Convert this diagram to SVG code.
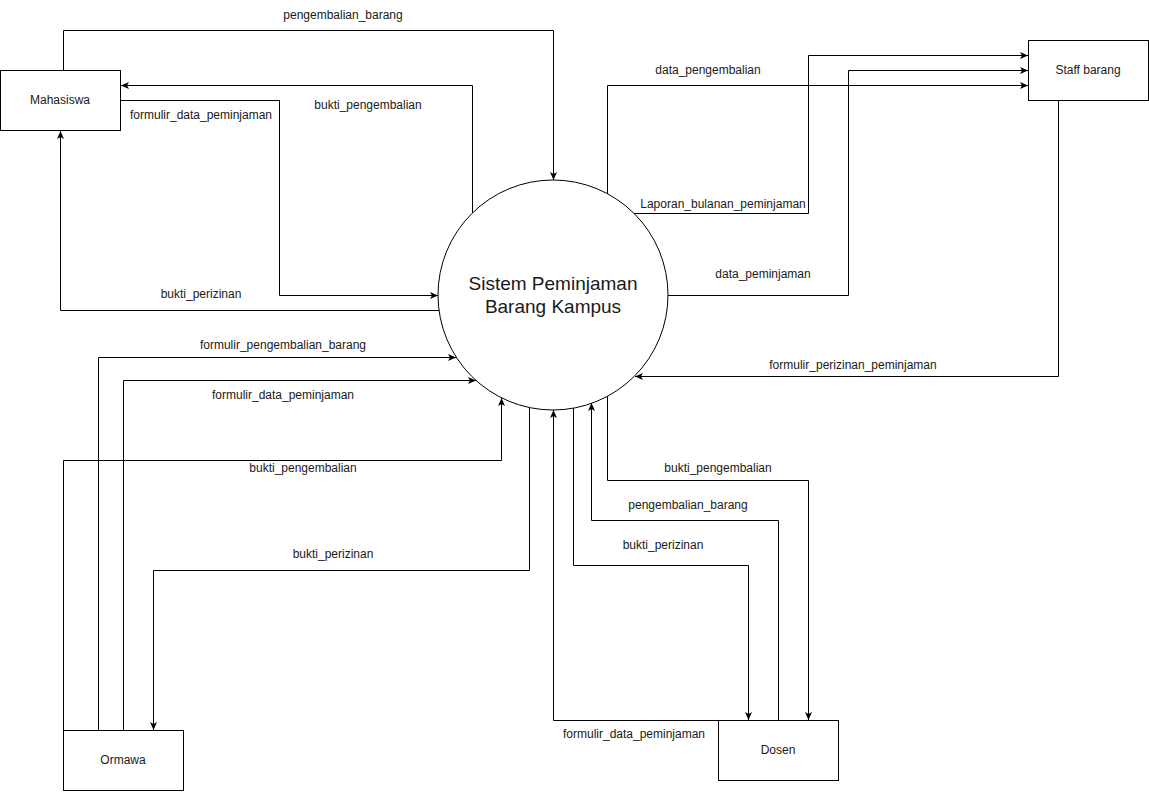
<svg xmlns="http://www.w3.org/2000/svg" width="1149" height="792" viewBox="0 0 1149 792">
<style>
.box{fill:#fff;stroke:#000;stroke-width:1}
.c{fill:none;stroke:#000;stroke-width:1;marker-end:url(#arr)}
.lbl{font-family:"Liberation Sans",Arial,sans-serif;font-size:12px;fill:#1a1a1a;text-anchor:middle}
.t{font-family:"Liberation Sans",Arial,sans-serif;font-size:12px;fill:#1a1a1a;text-anchor:middle}
.big{font-family:"Liberation Sans",Arial,sans-serif;font-size:19px;fill:#1a1a1a;text-anchor:middle}
</style>
<defs>
<marker id="arr" viewBox="0 0 8 7" refX="8" refY="3.5" markerWidth="8" markerHeight="7" markerUnits="userSpaceOnUse" orient="auto">
<path d="M0,0 L8,3.5 L0,7 L2,3.5 z" fill="#000"/>
</marker>
</defs>
<rect width="1149" height="792" fill="#fff"/>
<g id="connectors">
<path class="c" d="M63.5,70 V30.5 H553.5 V180"/>
<path class="c" d="M472.5,213 V85.5 H121"/>
<path class="c" d="M120,100.5 H279.5 V295.5 H438"/>
<path class="c" d="M439,310.5 H60.5 V131"/>
<path class="c" d="M607.5,194 V85.5 H1028"/>
<path class="c" d="M634,213.5 H808.5 V55.5 H1028"/>
<path class="c" d="M668,295.5 H848.5 V70.5 H1028"/>
<path class="c" d="M1058.5,100 V376.5 H635"/>
<path class="c" d="M98.5,730 V357.5 H456"/>
<path class="c" d="M123.5,730 V380.5 H476"/>
<path class="c" d="M63.5,730 V460.5 H501.5 V398"/>
<path class="c" d="M529.5,408 V570.5 H153.5 V730"/>
<path class="c" d="M718,720.5 H553.5 V410"/>
<path class="c" d="M607.5,396 V480.5 H808.5 V720"/>
<path class="c" d="M778.5,720 V520.5 H591.5 V403"/>
<path class="c" d="M573.5,408 V565.5 H748.5 V720"/>
<text class="lbl" x="343" y="19">pengembalian_barang</text>
<text class="lbl" x="368" y="109">bukti_pengembalian</text>
<text class="lbl" x="201" y="119">formulir_data_peminjaman</text>
<text class="lbl" x="201" y="298">bukti_perizinan</text>
<text class="lbl" x="708" y="74">data_pengembalian</text>
<text class="lbl" x="723" y="208">Laporan_bulanan_peminjaman</text>
<text class="lbl" x="763" y="278">data_peminjaman</text>
<text class="lbl" x="853" y="369">formulir_perizinan_peminjaman</text>
<text class="lbl" x="283" y="349">formulir_pengembalian_barang</text>
<text class="lbl" x="283" y="399">formulir_data_peminjaman</text>
<text class="lbl" x="303" y="472">bukti_pengembalian</text>
<text class="lbl" x="333" y="558">bukti_perizinan</text>
<text class="lbl" x="634" y="738">formulir_data_peminjaman</text>
<text class="lbl" x="718" y="472">bukti_pengembalian</text>
<text class="lbl" x="688" y="509">pengembalian_barang</text>
<text class="lbl" x="663" y="549">bukti_perizinan</text>
</g>
<g id="sistem">
<circle cx="553" cy="295" r="115" fill="#fff" stroke="#000" stroke-width="1"/>
<text class="big" x="553" y="290">Sistem Peminjaman</text>
<text class="big" x="553" y="313">Barang Kampus</text>
</g>
<g id="mahasiswa">
<rect class="box" x="0.5" y="70.5" width="120" height="60"/>
<text class="t" x="60" y="104">Mahasiswa</text>
</g>
<g id="staff">
<rect class="box" x="1028.5" y="40.5" width="120" height="60"/>
<text class="t" x="1088" y="74">Staff barang</text>
</g>
<g id="ormawa">
<rect class="box" x="63.5" y="730.5" width="120" height="60"/>
<text class="t" x="123" y="764">Ormawa</text>
</g>
<g id="dosen">
<rect class="box" x="718.5" y="720.5" width="120" height="60"/>
<text class="t" x="778" y="754">Dosen</text>
</g>
</svg>
